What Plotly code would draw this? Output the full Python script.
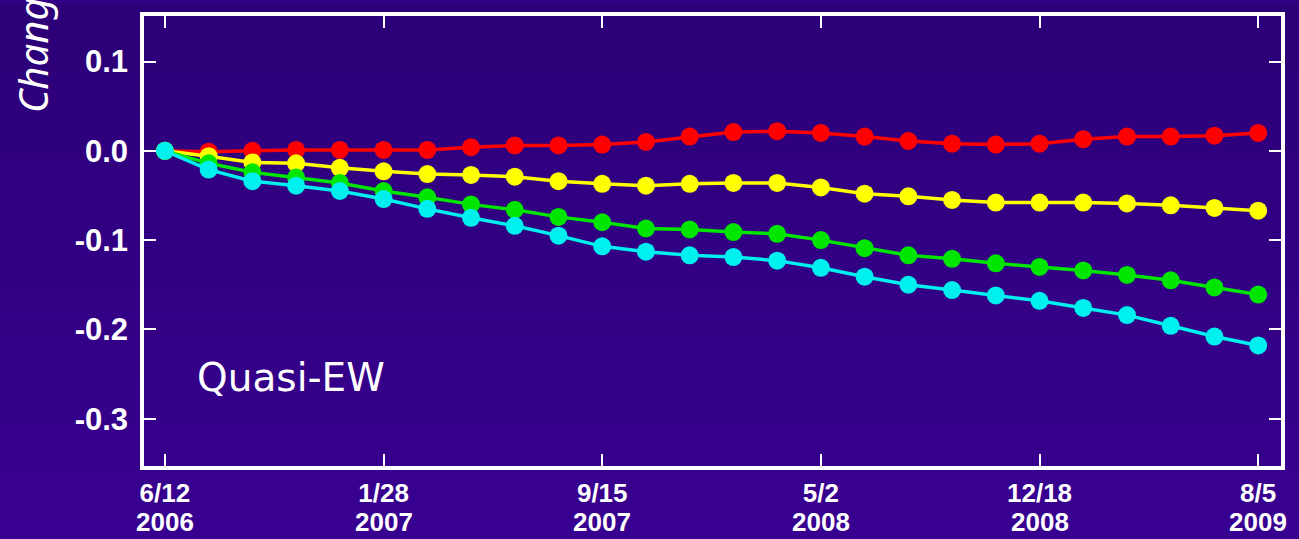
import plotly.graph_objects as go
import pandas as pd

# ---- data ----
dates = pd.date_range("2006-06-12", periods=26, freq="46D")
red = [0, -0.001, 0.000, 0.001, 0.001, 0.001, 0.001, 0.004, 0.006, 0.006, 0.007, 0.010, 0.016,
       0.021, 0.022, 0.020, 0.016, 0.011, 0.008, 0.007, 0.008, 0.013, 0.016, 0.016, 0.017, 0.020]
yellow = [0, -0.006, -0.013, -0.014, -0.019, -0.023, -0.026, -0.027, -0.029, -0.034, -0.037, -0.039, -0.037,
          -0.036, -0.036, -0.041, -0.048, -0.051, -0.055, -0.058, -0.058, -0.058, -0.059, -0.061, -0.064, -0.067]
green = [0, -0.014, -0.024, -0.030, -0.036, -0.045, -0.052, -0.060, -0.066, -0.074, -0.080, -0.087, -0.088,
         -0.091, -0.093, -0.100, -0.109, -0.117, -0.121, -0.126, -0.130, -0.134, -0.139, -0.145, -0.153, -0.161]
cyan = [0, -0.021, -0.034, -0.039, -0.045, -0.054, -0.065, -0.075, -0.084, -0.095, -0.107, -0.113, -0.117,
        -0.119, -0.123, -0.131, -0.141, -0.150, -0.156, -0.162, -0.168, -0.176, -0.184, -0.196, -0.208, -0.218]

xtick_dates = ["2006-06-12", "2007-01-28", "2007-09-15", "2008-05-02", "2008-12-18", "2009-08-05"]
xtick_md = ["6/12", "1/28", "9/15", "5/2", "12/18", "8/5"]
xtick_year = ["2006", "2007", "2007", "2008", "2008", "2009"]
ytick_vals = [0.1, 0.0, -0.1, -0.2, -0.3]
ytick_text = ["0.1", "0.0", "-0.1", "-0.2", "-0.3"]

series = [("red", red, "#ff0000"), ("yellow", yellow, "#ffff00"),
          ("green", green, "#00e600"), ("cyan", cyan, "#00f0f0")]

fig = go.Figure()
for name, vals, col in series:
    fig.add_trace(go.Scatter(x=dates, y=vals, mode="lines+markers", name=name,
                             line=dict(color=col, width=3.5),
                             marker=dict(color=col, size=18, line=dict(width=0)),
                             showlegend=False))

W, H = 1299, 539
ml, mr, mt, mb = 144, 18, 12, 73
pw, ph = W - ml - mr, H - mt - mb

# background vertical gradient (bands)
top = (44, 0, 120)
bot = (56, 0, 144)
n = 24
shapes = []
for i in range(n):
    t = (i + 0.5) / n
    c = tuple(int(round(top[k] + (bot[k] - top[k]) * t)) for k in range(3))
    y1 = 1 + mt / ph - i * (H / ph) / n
    y0 = 1 + mt / ph - (i + 1) * (H / ph) / n
    shapes.append(dict(type="rect", xref="paper", yref="paper", layer="below",
                       x0=-ml / pw - 0.01, x1=1 + mr / pw + 0.01, y0=y0 - 0.002, y1=y1 + 0.002,
                       fillcolor="rgb(%d,%d,%d)" % c, line=dict(width=0)))

tick_font = dict(family="Liberation Sans", size=26, color="white", weight="bold")
annotations = []
for d, yr in zip(xtick_dates, xtick_year):
    annotations.append(dict(x=d, y=-(523 - 466) / ph, xref="x", yref="paper", text=yr,
                            showarrow=False, xanchor="center", yanchor="middle",
                            font=tick_font))
annotations.append(dict(x=(291 - ml) / pw, y=(466 - 377) / ph, xref="paper", yref="paper",
                        text="Quasi-EW", showarrow=False, xanchor="center", yanchor="middle",
                        font=dict(family="DejaVu Sans", size=39, color="white")))
annotations.append(dict(x=(32 - ml) / pw, y=(466 - 112) / ph, xref="paper", yref="paper",
                        text="<i>Change</i>", textangle=-90, showarrow=False,
                        xanchor="center", yanchor="bottom",
                        font=dict(family="Noto Sans", size=40, color="white")))

fig.update_layout(
    width=W, height=H,
    margin=dict(l=ml, r=mr, t=mt, b=mb),
    paper_bgcolor="rgb(50,0,132)",
    plot_bgcolor="rgba(0,0,0,0)",
    shapes=shapes,
    annotations=annotations,
    xaxis=dict(range=["2006-05-21", "2009-08-29"], tickvals=xtick_dates, ticktext=xtick_md,
               showgrid=False, zeroline=False, showline=True, linecolor="white", linewidth=3.5,
               mirror="ticks", ticks="inside", ticklen=12, tickwidth=2, tickcolor="white",
               tickfont=tick_font, ticklabelstandoff=1),
    yaxis=dict(range=[-0.353, 0.151], tickvals=ytick_vals, ticktext=ytick_text,
               showgrid=False, zeroline=False, showline=True, linecolor="white", linewidth=3.5,
               mirror="ticks", ticks="inside", ticklen=12, tickwidth=2, tickcolor="white",
               tickfont=dict(family="Liberation Sans", size=31, color="white", weight="bold"),
               ticklabelstandoff=6),
)

fig.write_html("out.html")
